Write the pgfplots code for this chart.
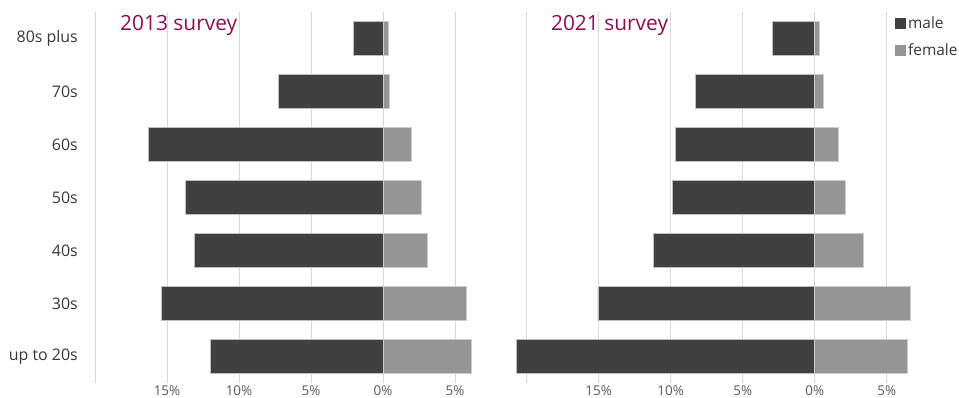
\documentclass[border=0pt]{standalone}
\usepackage{pgfplots}
\pgfplotsset{compat=1.18}
\usepackage{fontspec}
\setmainfont{Open Sans}
\definecolor{maleC}{HTML}{404040}
\definecolor{femaleC}{HTML}{959595}
\definecolor{gridC}{HTML}{D9D9D9}
\definecolor{titleC}{HTML}{8A0F4E}
\definecolor{labC}{HTML}{383838}
\definecolor{xlabC}{HTML}{595959}

\pgfplotstableread{
y male female
0 -11.97 6.16
1 -15.39 5.76
2 -13.08 3.06
3 -13.75 2.64
4 -16.27 1.94
5 -7.29 0.46
6 -2.04 0.35
}\surveyA
\pgfplotstableread{
y male female
0 -20.7 6.45
1 -15.05 6.61
2 -11.18 3.34
3 -9.90 2.14
4 -9.65 1.66
5 -8.27 0.60
6 -2.93 0.30
}\surveyB

\pgfplotsset{
  pyr/.style={
    scale only axis,
    width=381.6bp, height=371bp,
    anchor=south west,
    xbar, bar width=34bp, bar shift=0pt,
    ymin=-0.5, ymax=6.5,
    ytick={0,...,6},
    xtick={-20,-15,-10,-5,0,5},
    xticklabels={,15\%,10\%,5\%,0\%,5\%},
    xmajorgrids,
    major grid style={draw=gridC, line width=0.9bp},
    axis line style={draw=none},
    major tick length=0pt,
    xticklabel style={font=\fontsize{13.5}{15}\selectfont, text=xlabC, inner sep=0pt, anchor=base, yshift=-12.5bp},
    /pgf/number format/assume math mode=true,
    clip=false,
  },
}

\begin{document}
\begin{tikzpicture}
\useasboundingbox (0,0) rectangle (959bp,398bp);
\begin{axis}[pyr, at={(95bp,15bp)},
  xmin=-20, xmax=6.5,
  yticklabels={up to 20s,30s,40s,50s,60s,70s,80s plus},
  yticklabel style={font=\fontsize{16}{18}\selectfont, text=labC, anchor=east, inner sep=0pt, xshift=-17bp},
]
\addplot[fill=maleC, draw=white!75!black, line width=0.5bp] table[x=male, y=y] {\surveyA};
\addplot[fill=femaleC, draw=white!80!black, line width=0.5bp] table[x=female, y=y] {\surveyA};
\node[anchor=base west, text=titleC, font=\fontsize{21}{24}\selectfont, inner sep=0pt] at (rel axis cs:0.0655,0.951) {2013 survey};
\end{axis}
\begin{axis}[pyr, at={(512.3bp,15bp)},
  xmin=-21, xmax=5.5,
  yticklabels={},
  legend style={at={(rel axis cs:1,1)}, anchor=north west, draw=none, fill=none,
    font=\fontsize{15.5}{17}\selectfont, text=labC, row sep=9bp, inner sep=0pt, xshift=1bp, yshift=-3bp,
    /tikz/every even column/.append style={column sep=0bp}},
  legend cell align=left,
  legend image code/.code={\fill[#1,draw=none] (0bp,-5.5bp) rectangle (11bp,5.5bp);},
]
\addplot[fill=maleC, draw=white!75!black, line width=0.5bp] table[x=male, y=y] {\surveyB};
\addlegendentry{male}
\addplot[fill=femaleC, draw=white!80!black, line width=0.5bp] table[x=female, y=y] {\surveyB};
\addlegendentry{female}
\node[anchor=base west, text=titleC, font=\fontsize{21}{24}\selectfont, inner sep=0pt] at (rel axis cs:0.101,0.951) {2021 survey};
\end{axis}
\end{tikzpicture}
\end{document}
